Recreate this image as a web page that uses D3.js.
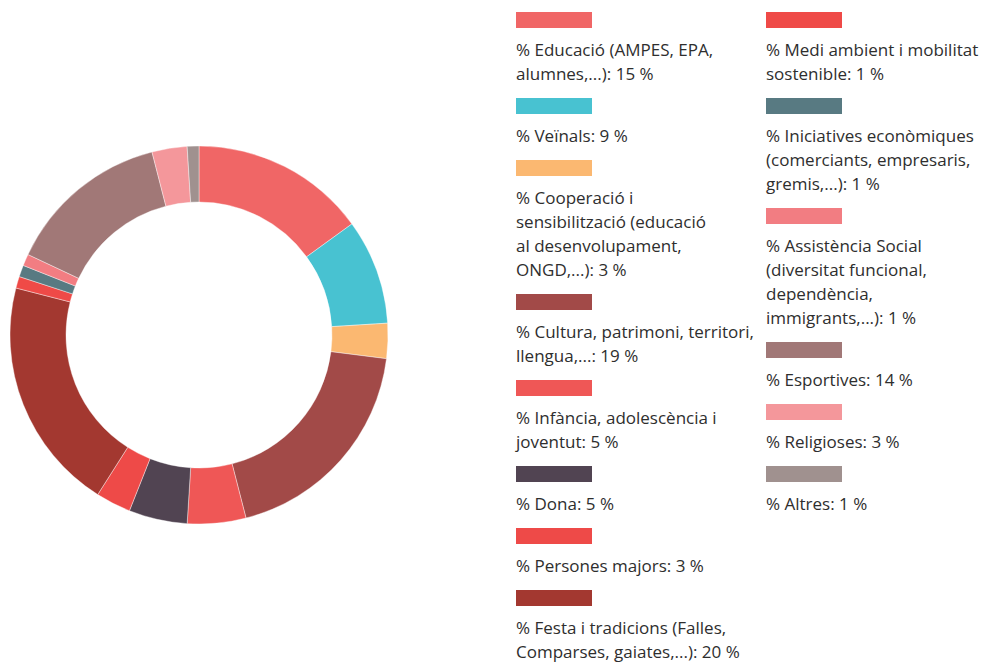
<!DOCTYPE html>
<html>
<head>
<meta charset="utf-8">
<script src="https://cdn.jsdelivr.net/npm/d3@7"></script>
<style>
  body { margin: 0; background: #fff; }
  svg { display: block; font-family: "Open Sans", sans-serif; }
</style>
</head>
<body>
<svg id="chart" width="984" height="664"></svg>
<script>
// legend labels, one entry per line as shown in the original
const categories = [
  ['% Educació (AMPES, EPA,', 'alumnes,...)'],
  ['% Veïnals'],
  ['% Cooperació i', 'sensibilització (educació', 'al desenvolupament,', 'ONGD,...)'],
  ['% Cultura, patrimoni, territori,', 'llengua,...'],
  ['% Infància, adolescència i', 'joventut'],
  ['% Dona'],
  ['% Persones majors'],
  ['% Festa i tradicions (Falles,', 'Comparses, gaiates,...)'],
  ['% Medi ambient i mobilitat', 'sostenible'],
  ['% Iniciatives econòmiques', '(comerciants, empresaris,', 'gremis,...)'],
  ['% Assistència Social', '(diversitat funcional,', 'dependència,', 'immigrants,...)'],
  ['% Esportives'],
  ['% Religioses'],
  ['% Altres']
];
const values = [15, 9, 3, 19, 5, 5, 3, 20, 1, 1, 1, 14, 3, 1];
const colors = [
  '#F06666', '#48C2D1', '#FBB871', '#A24A48', '#EF5756', '#514452', '#EE4A48',
  '#A33830', '#EF4A47', '#587A82', '#F27D82', '#A17877', '#F4979B', '#A0918F'
];

const data = categories.map((c, i) => ({ lines: c, value: values[i], color: colors[i] }));

const svg = d3.select('#chart');

// Donut
const cx = 199, cy = 335, outerR = 189, innerR = 133;
const pie = d3.pie().sort(null).value(d => d.value);
const arc = d3.arc().innerRadius(innerR).outerRadius(outerR);

svg.append('g')
  .attr('transform', `translate(${cx},${cy})`)
  .selectAll('path')
  .data(pie(data))
  .enter()
  .append('path')
  .attr('d', arc)
  .attr('fill', d => d.data.color)
  .attr('stroke', '#fff')
  .attr('stroke-width', 0.4);

// Legend: two columns, 8 items then 6
const colX = [516, 766];
const perCol = 8;
const swW = 76, swH = 16, lineH = 24;

const legend = svg.append('g').attr('class', 'legend');
const y = [12, 12];

data.forEach((d, i) => {
  const col = i < perCol ? 0 : 1;
  const g = legend.append('g').attr('transform', `translate(${colX[col]},${y[col]})`);

  g.append('rect')
    .attr('width', swW)
    .attr('height', swH)
    .attr('fill', d.color);

  const lines = d.lines.slice();
  lines[lines.length - 1] += `: ${d.value} %`;

  g.append('text')
    .attr('fill', '#2e2e2e')
    .style('font-size', '17px')
    .selectAll('tspan')
    .data(lines)
    .enter()
    .append('tspan')
    .attr('x', 0)
    .attr('y', (l, k) => 44 + k * lineH)
    .text(l => l);

  y[col] += 38 + lines.length * lineH;
});
</script>
</body>
</html>
